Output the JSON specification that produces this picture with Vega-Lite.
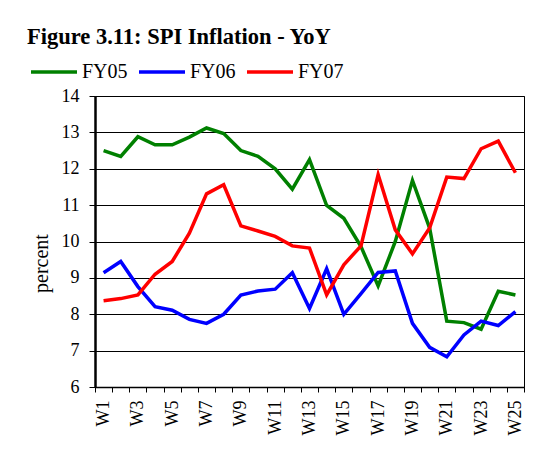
{
  "$schema": "https://vega.github.io/schema/vega-lite/v6.json",
  "autosize": {"type": "none"},
  "padding": {"left": 95, "top": 96, "right": 21, "bottom": 70},
  "width": 429,
  "height": 291,
  "background": "white",
  "title": {
    "text": "Figure 3.11: SPI Inflation - YoY",
    "anchor": "start",
    "frame": "group",
    "font": "Times New Roman, Liberation Serif, Times, serif",
    "fontSize": 22.5,
    "fontWeight": "bold",
    "color": "#000",
    "baseline": "alphabetic",
    "offset": 0,
    "dx": -68,
    "dy": 19
  },
  "data": {
    "values": [
      {"week": "W1", "series": "FY05", "value": 12.50},
      {"week": "W2", "series": "FY05", "value": 12.34},
      {"week": "W3", "series": "FY05", "value": 12.88},
      {"week": "W4", "series": "FY05", "value": 12.66},
      {"week": "W5", "series": "FY05", "value": 12.66},
      {"week": "W6", "series": "FY05", "value": 12.87},
      {"week": "W7", "series": "FY05", "value": 13.12},
      {"week": "W8", "series": "FY05", "value": 12.97},
      {"week": "W9", "series": "FY05", "value": 12.50},
      {"week": "W10", "series": "FY05", "value": 12.34},
      {"week": "W11", "series": "FY05", "value": 12.00},
      {"week": "W12", "series": "FY05", "value": 11.44},
      {"week": "W13", "series": "FY05", "value": 12.25},
      {"week": "W14", "series": "FY05", "value": 10.99},
      {"week": "W15", "series": "FY05", "value": 10.64},
      {"week": "W16", "series": "FY05", "value": 9.86},
      {"week": "W17", "series": "FY05", "value": 8.78},
      {"week": "W18", "series": "FY05", "value": 10.00},
      {"week": "W19", "series": "FY05", "value": 11.68},
      {"week": "W20", "series": "FY05", "value": 10.37},
      {"week": "W21", "series": "FY05", "value": 7.81},
      {"week": "W22", "series": "FY05", "value": 7.77},
      {"week": "W23", "series": "FY05", "value": 7.59},
      {"week": "W24", "series": "FY05", "value": 8.63},
      {"week": "W25", "series": "FY05", "value": 8.53},
      {"week": "W1", "series": "FY06", "value": 9.14},
      {"week": "W2", "series": "FY06", "value": 9.45},
      {"week": "W3", "series": "FY06", "value": 8.76},
      {"week": "W4", "series": "FY06", "value": 8.21},
      {"week": "W5", "series": "FY06", "value": 8.11},
      {"week": "W6", "series": "FY06", "value": 7.86},
      {"week": "W7", "series": "FY06", "value": 7.75},
      {"week": "W8", "series": "FY06", "value": 8.00},
      {"week": "W9", "series": "FY06", "value": 8.53},
      {"week": "W10", "series": "FY06", "value": 8.64},
      {"week": "W11", "series": "FY06", "value": 8.69},
      {"week": "W12", "series": "FY06", "value": 9.14},
      {"week": "W13", "series": "FY06", "value": 8.16},
      {"week": "W14", "series": "FY06", "value": 9.25},
      {"week": "W15", "series": "FY06", "value": 8.00},
      {"week": "W16", "series": "FY06", "value": 8.57},
      {"week": "W17", "series": "FY06", "value": 9.15},
      {"week": "W18", "series": "FY06", "value": 9.19},
      {"week": "W19", "series": "FY06", "value": 7.75},
      {"week": "W20", "series": "FY06", "value": 7.09},
      {"week": "W21", "series": "FY06", "value": 6.83},
      {"week": "W22", "series": "FY06", "value": 7.43},
      {"week": "W23", "series": "FY06", "value": 7.81},
      {"week": "W24", "series": "FY06", "value": 7.69},
      {"week": "W25", "series": "FY06", "value": 8.07},
      {"week": "W1", "series": "FY07", "value": 8.37},
      {"week": "W2", "series": "FY07", "value": 8.43},
      {"week": "W3", "series": "FY07", "value": 8.53},
      {"week": "W4", "series": "FY07", "value": 9.10},
      {"week": "W5", "series": "FY07", "value": 9.45},
      {"week": "W6", "series": "FY07", "value": 10.23},
      {"week": "W7", "series": "FY07", "value": 11.31},
      {"week": "W8", "series": "FY07", "value": 11.56},
      {"week": "W9", "series": "FY07", "value": 10.43},
      {"week": "W10", "series": "FY07", "value": 10.29},
      {"week": "W11", "series": "FY07", "value": 10.14},
      {"week": "W12", "series": "FY07", "value": 9.88},
      {"week": "W13", "series": "FY07", "value": 9.82},
      {"week": "W14", "series": "FY07", "value": 8.53},
      {"week": "W15", "series": "FY07", "value": 9.36},
      {"week": "W16", "series": "FY07", "value": 9.88},
      {"week": "W17", "series": "FY07", "value": 11.84},
      {"week": "W18", "series": "FY07", "value": 10.32},
      {"week": "W19", "series": "FY07", "value": 9.66},
      {"week": "W20", "series": "FY07", "value": 10.37},
      {"week": "W21", "series": "FY07", "value": 11.77},
      {"week": "W22", "series": "FY07", "value": 11.73},
      {"week": "W23", "series": "FY07", "value": 12.55},
      {"week": "W24", "series": "FY07", "value": 12.76},
      {"week": "W25", "series": "FY07", "value": 11.89}
    ]
  },
  "mark": {"type": "line", "strokeWidth": 3.5, "strokeJoin": "miter"},
  "encoding": {
    "x": {
      "field": "week",
      "type": "nominal",
      "sort": null,
      "bandPosition": 0.5,
      "scale": {"type": "band", "paddingInner": 0, "paddingOuter": 0},
      "axis": {
        "title": null,
        "grid": false,
        "tickBand": "extent",
        "domainColor": "#000",
        "domainWidth": 1.5,
        "tickColor": "#000",
        "tickSize": 5,
        "labelAngle": -90,
        "labelAlign": "right",
        "labelBaseline": "middle",
        "labelPadding": 8,
        "labelFont": "Times New Roman, Liberation Serif, Times, serif",
        "labelFontSize": 18,
        "labelColor": "#000",
        "labelExpr": "toNumber(substring(datum.value, 1)) % 2 == 1 ? datum.value : ''"
      }
    },
    "y": {
      "field": "value",
      "type": "quantitative",
      "scale": {"domain": [6, 14], "nice": false, "zero": false},
      "axis": {
        "title": "percent",
        "values": [6, 7, 8, 9, 10, 11, 12, 13, 14],
        "grid": true,
        "gridColor": "#000",
        "gridWidth": 1,
        "domainColor": "#000",
        "domainWidth": 2.5,
        "tickColor": "#000",
        "tickSize": 6,
        "labelPadding": 10,
        "labelFont": "Times New Roman, Liberation Serif, Times, serif",
        "labelFontSize": 18,
        "labelColor": "#000",
        "titleFont": "Times New Roman, Liberation Serif, Times, serif",
        "titleFontSize": 20,
        "titleFontWeight": "normal",
        "titleColor": "#000",
        "titleAngle": -90,
        "titleAlign": "center",
        "titleBaseline": "bottom",
        "titleX": -44,
        "titleY": 167
      }
    },
    "color": {
      "field": "series",
      "type": "nominal",
      "scale": {"domain": ["FY05", "FY06", "FY07"], "range": ["#008000", "#0000FF", "#FF0000"]},
      "legend": {
        "title": null,
        "orient": "none",
        "direction": "horizontal",
        "legendX": -66,
        "legendY": -49,
        "symbolType": "stroke",
        "symbolSize": 2116,
        "symbolStrokeWidth": 3.5,
        "labelFont": "Times New Roman, Liberation Serif, Times, serif",
        "labelFontSize": 20,
        "labelColor": "#000",
        "labelOffset": 3,
        "columnPadding": 4,
        "padding": 0
      }
    }
  },
  "config": {
    "view": {"stroke": "#000", "strokeWidth": 1}
  }
}
